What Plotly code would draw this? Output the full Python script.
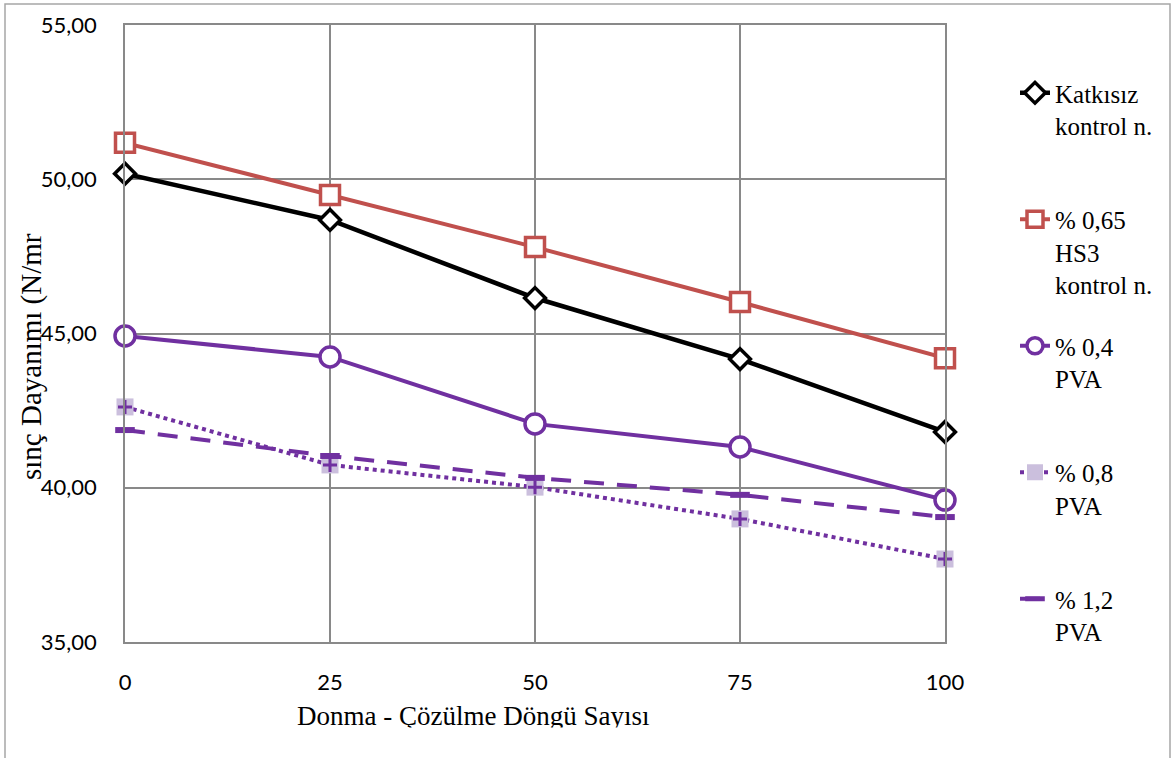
import plotly.graph_objects as go

cycles = [0, 25, 50, 75, 100]
katkisiz = [50.18, 48.68, 46.15, 44.17, 41.81]
hs3 = [51.18, 49.49, 47.80, 46.02, 44.20]
pva04 = [44.92, 44.24, 42.07, 41.32, 39.60]
pva08 = [42.62, 40.74, 40.02, 38.99, 37.69]
pva12 = [41.87, 41.03, 40.32, 39.77, 39.05]

names = ["Katkısız<br>kontrol n.<br> ", "% 0,65<br>HS3<br>kontrol n.",
         "% 0,4<br>PVA<br> ", "% 0,8<br>PVA<br> ", "% 1,2<br>PVA"]
y_ticks = [35, 40, 45, 50, 55]

BLACK = "#000000"
RED = "#C0504D"
PURPLE = "#7030A0"
LAV = "#CBBFDD"
SERIF = "Liberation Serif, Times New Roman, serif"

fig = go.Figure()
fig.add_trace(go.Scatter(x=cycles, y=katkisiz, name=names[0], mode="lines+markers",
                         line=dict(color=BLACK, width=4.5), cliponaxis=False,
                         marker=dict(symbol="diamond", size=16, color="white",
                                     line=dict(color=BLACK, width=3.5)),
                         legendgroup="a"))
fig.add_trace(go.Scatter(x=cycles, y=hs3, name=names[1], mode="lines+markers",
                         line=dict(color=RED, width=4), cliponaxis=False,
                         marker=dict(symbol="square", size=19, color="white",
                                     line=dict(color=RED, width=3.5)),
                         legendgroup="b"))
fig.add_trace(go.Scatter(x=cycles, y=pva04, name=names[2], mode="lines+markers",
                         line=dict(color=PURPLE, width=4), cliponaxis=False,
                         marker=dict(symbol="circle", size=20, color="white",
                                     line=dict(color=PURPLE, width=3.5)),
                         legendgroup="c"))
fig.add_trace(go.Scatter(x=cycles, y=pva08, name=names[3], mode="lines+markers",
                         line=dict(color=PURPLE, width=4, dash="dot"), cliponaxis=False,
                         marker=dict(symbol="square", size=17, color=LAV,
                                     line=dict(color=LAV, width=0)),
                         legendgroup="d"))
fig.add_trace(go.Scatter(x=cycles, y=pva08, mode="markers", showlegend=False,
                         cliponaxis=False,
                         marker=dict(symbol="cross-thin", size=10,
                                     line=dict(color=PURPLE, width=3)),
                         legendgroup="d", hoverinfo="skip"))
fig.add_trace(go.Scatter(x=cycles, y=pva12, name=names[4], mode="lines+markers",
                         line=dict(color=PURPLE, width=4, dash="20px,13px"),
                         cliponaxis=False,
                         marker=dict(symbol="line-ew", size=14,
                                     line=dict(color=PURPLE, width=6)),
                         legendgroup="e"))

L, R, T, B = 125, 229, 25, 116
W, H = 1174, 758
pw, ph = W - L - R, H - T - B

def px(x):
    return (x - L) / pw

def py(y):
    return (H - B - y) / ph

grid = "#898989"
fig.update_layout(
    width=W, height=H,
    margin=dict(l=L, r=R, t=T, b=B),
    paper_bgcolor="white", plot_bgcolor="white",
    separators=",.",
    font=dict(family=SERIF, color="black"),
    showlegend=True,
    legend=dict(x=px(1015), y=py(70), xanchor="left", yanchor="top",
                font=dict(family=SERIF, size=25, color="black"),
                tracegroupgap=26, valign="top", bgcolor="rgba(0,0,0,0)"),
    xaxis=dict(range=[0, 100], tickvals=cycles, ticktext=[str(c) for c in cycles],
               showgrid=True, gridcolor=grid, gridwidth=1.5,
               showline=True, linecolor=grid, linewidth=1.5, mirror=True,
               zeroline=False, ticks="", ticklabelstandoff=20,
               tickfont=dict(family="Lato", size=22, color="black")),
    yaxis=dict(range=[35, 55], tickvals=y_ticks, tickformat=".2f",
               showgrid=True, gridcolor=grid, gridwidth=1.5,
               showline=True, linecolor=grid, linewidth=1.5, mirror=True,
               zeroline=False, ticks="", ticklabelstandoff=22,
               tickfont=dict(family="Lato", size=22, color="black")),
    shapes=[dict(type="rect", xref="paper", yref="paper",
                 x0=px(5), x1=px(1170), y0=py(4), y1=py(780),
                 line=dict(color="#A6A6A6", width=1.5), fillcolor="rgba(0,0,0,0)",
                 layer="below")],
    annotations=[
        dict(text="sınç Dayanımı (N/mr", xref="paper", yref="paper",
             x=px(31), y=py(357), xanchor="center", yanchor="middle",
             textangle=-90, showarrow=False,
             font=dict(family=SERIF, size=29, color="black")),
        dict(text="Donma - Çözülme Döngü Sayısı", xref="paper", yref="paper",
             x=px(473), y=py(699), xanchor="center", yanchor="top",
             showarrow=False,
             font=dict(family=SERIF, size=27, color="black")),
        dict(text=".", xref="paper", yref="paper",
             x=px(250), y=py(727), xanchor="left", yanchor="top",
             width=500, height=30, bgcolor="white", showarrow=False,
             font=dict(size=8, color="white")),
    ],
)

fig.write_html("out.html")
